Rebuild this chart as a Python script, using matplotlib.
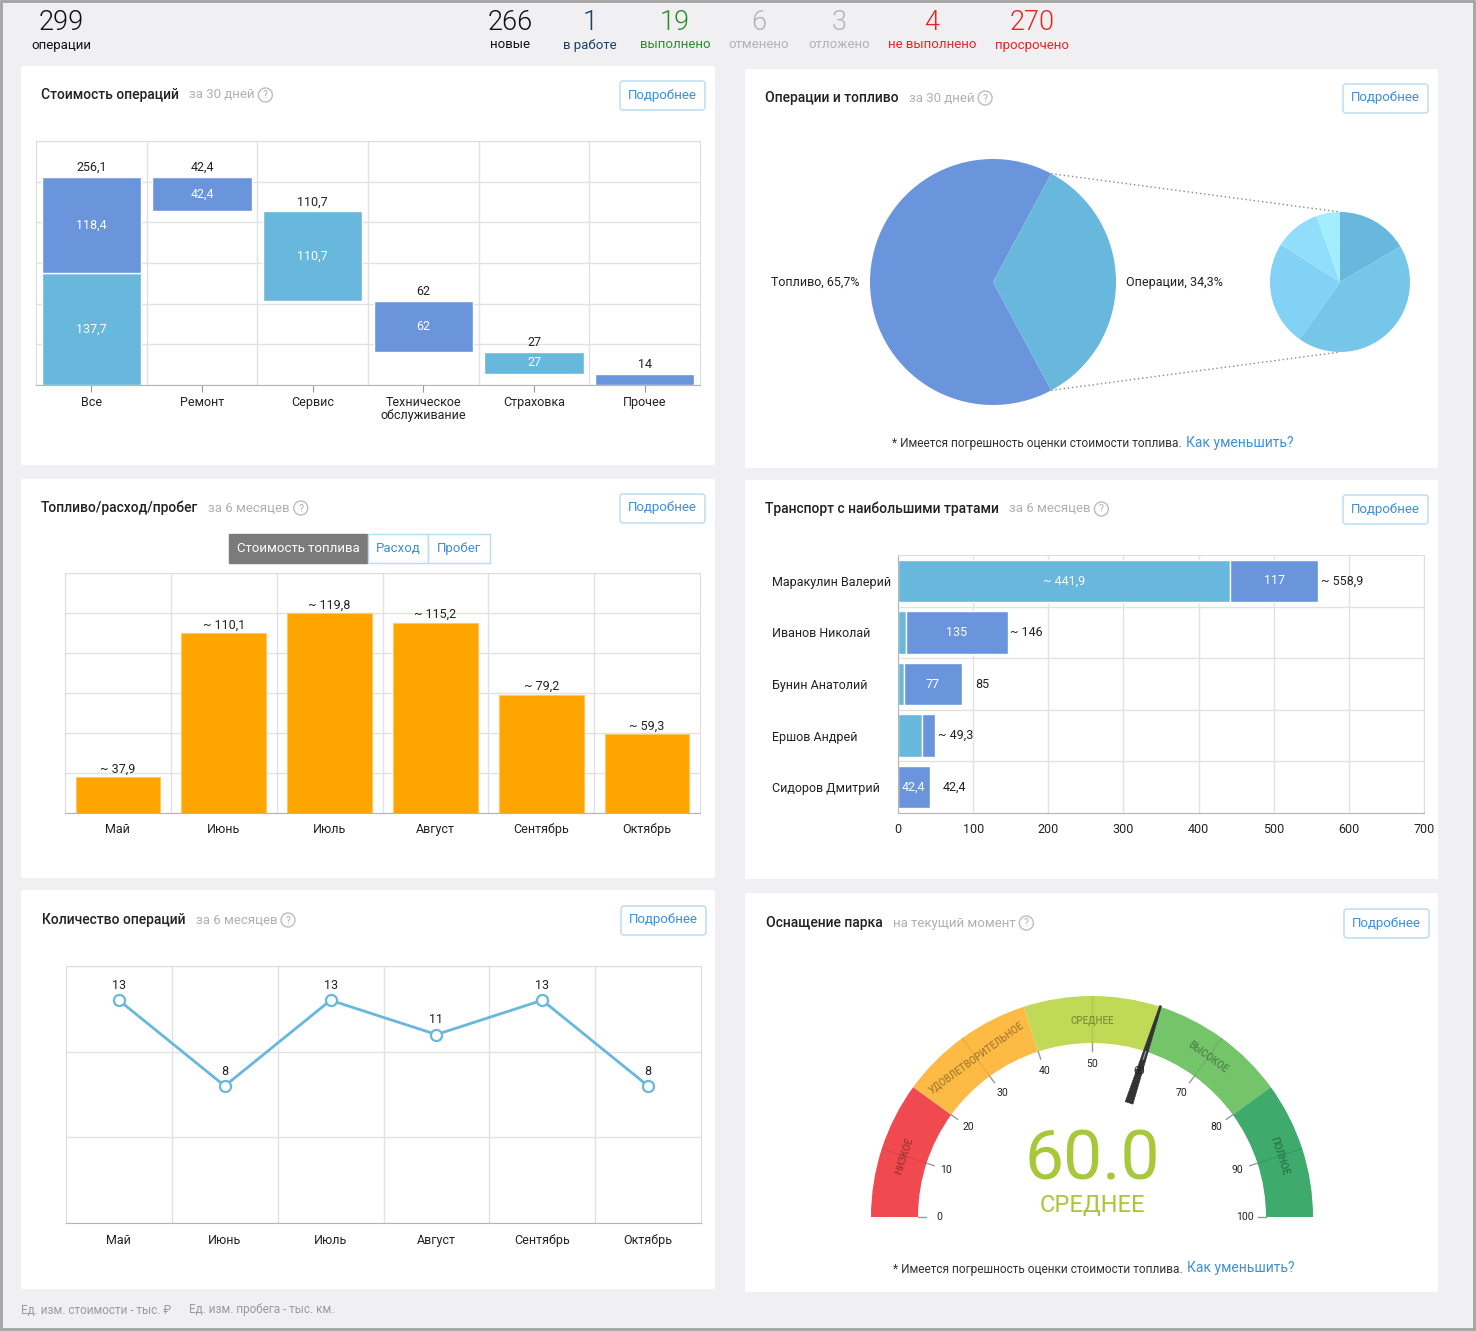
import matplotlib
matplotlib.use('Agg')
import matplotlib.pyplot as plt
import matplotlib.patches as patches
import numpy as np

plt.rcParams['font.family'] = ['Roboto', 'DejaVu Sans']

W, H = 1476, 1331

# ---------- данные ----------
header_values = [299, 266, 1, 19, 6, 3, 4, 270]
header_labels = ['операции', 'новые', 'в работе', 'выполнено', 'отменено',
                 'отложено', 'не выполнено', 'просрочено']

cost_items = ['Ремонт', 'Сервис', 'Техническое\nобслуживание', 'Страховка', 'Прочее']
cost_values = [42.4, 110.7, 62, 27, 14]
cost_group = [0, 1, 0, 1, 0]  # 0 - синие, 1 - голубые

share_labels = ['Топливо', 'Операции']
share_values = [65.7, 34.3]

months = ['Май', 'Июнь', 'Июль', 'Август', 'Сентябрь', 'Октябрь']
fuel_cost = [37.9, 110.1, 119.8, 115.2, 79.2, 59.3]
ops_count = [13, 8, 13, 11, 13, 8]

drivers = ['Маракулин Валерий', 'Иванов Николай', 'Бунин Анатолий',
           'Ершов Андрей', 'Сидоров Дмитрий']
driver_fuel = [441.9, 11.0, 8.0, 32.0, 0.0]
driver_ops = [117, 135, 77, 17.3, 42.4]
driver_approx = [True, True, False, True, False]

gauge_bands = ['НИЗКОЕ', 'УДОВЛЕТВОРИТЕЛЬНОЕ', 'СРЕДНЕЕ', 'ВЫСОКОЕ', 'ПОЛНОЕ']
gauge_edges = [0, 20, 40, 60, 80, 100]
gauge_value = 60.0

# ---------- стиль ----------
BLUE = '#6a95dc'
LIGHT = '#68b7dc'
ORANGE = '#ffa500'
GRID = '#e2e2e2'
LINK = '#3d8fd6'
header_colors = ['#111111', '#111111', '#1c3f66', '#2b8c2b', '#b3b3b3',
                 '#b3b3b3', '#e52521', '#e52521']
header_x = [61, 510, 590, 675, 759, 839, 932, 1032]
small_pie_colors = ['#68b7dc', '#76c6e9', '#82d2f6', '#90defc', '#a2eefe']
band_colors = ['#f04a50', '#fdbb45', '#c0d957', '#74c46a', '#3eaa6c']


def fmt(v):
    return ('%g' % round(v, 1)).replace('.', ',')


fig = plt.figure(figsize=(W / 100, H / 100), dpi=100, facecolor='#f0f0f2')
renderer = fig.canvas.get_renderer()

bg = fig.add_axes([0, 0, 1, 1])
bg.set_xlim(0, W)
bg.set_ylim(H, 0)
bg.axis('off')


def px_axes(x0, y0, x1, y1):
    return fig.add_axes([x0 / W, 1 - y1 / H, (x1 - x0) / W, (y1 - y0) / H])


# рамка и панели
bg.add_patch(patches.Rectangle((1, 1), W - 3, H - 3, fill=False, ec='#a3a3a3', lw=2))
for x0, y0, x1, y1 in [(21, 66, 715, 465), (745, 69, 1438, 468),
                       (21, 479, 715, 878), (745, 480, 1438, 879),
                       (21, 890, 715, 1289), (745, 893, 1438, 1292)]:
    bg.add_patch(patches.Rectangle((x0, y0), x1 - x0, y1 - y0, fc='white', ec='none'))

# верхняя строка счётчиков
for x, v, lab, c in zip(header_x, header_values, header_labels, header_colors):
    bg.text(x, 23, str(v), fontsize=19.5, fontweight=300, color=c, ha='center', va='center')
    bg.text(x, 45, lab, fontsize=9.5, color=c, ha='center', va='center')


def panel_header(x, y, title, sub, btn_x1):
    t = bg.text(x, y, title, fontsize=10, fontweight='medium', color='#222222', va='center')
    xs = t.get_window_extent(renderer).x1 + 10
    s = bg.text(xs, y, sub, fontsize=9.5, color='#b0b0b0', va='center')
    xq = s.get_window_extent(renderer).x1 + 11
    bg.add_patch(patches.Circle((xq, y), 7, fill=False, ec='#bdbdbd', lw=1))
    bg.text(xq, y + 0.5, '?', fontsize=7.5, color='#b0b0b0', ha='center', va='center')
    bg.add_patch(patches.FancyBboxPatch((btn_x1 - 85, y - 14), 85, 29,
                                        boxstyle='round,pad=0,rounding_size=3',
                                        fc='white', ec='#b7dbf0', lw=1))
    bg.text(btn_x1 - 42.5, y, 'Подробнее', fontsize=9.5, color=LINK, ha='center', va='center')


panel_header(41, 95, 'Стоимость операций', 'за 30 дней', 705)
panel_header(765, 98, 'Операции и топливо', 'за 30 дней', 1428)
panel_header(41, 508, 'Топливо/расход/пробег', 'за 6 месяцев', 705)
panel_header(765, 509, 'Транспорт с наибольшими тратами', 'за 6 месяцев', 1428)
panel_header(42, 920, 'Количество операций', 'за 6 месяцев', 706)
panel_header(766, 923, 'Оснащение парка', 'на текущий момент', 1429)


def note(x_split, y):
    bg.text(x_split, y, '* Имеется погрешность оценки стоимости топлива.', fontsize=8.6,
            color='#333333', ha='right', va='center')
    bg.text(x_split + 4, y - 1, 'Как уменьшить?', fontsize=10, color=LINK,
            ha='left', va='center')


note(1182, 444)
note(1183, 1269)

bg.text(21, 1310, 'Ед. изм. стоимости - тыс. ₽', fontsize=8.5, color='#9a9a9a', va='center')
bg.text(189, 1310, 'Ед. изм. пробега - тыс. км.', fontsize=8.5, color='#9a9a9a', va='center')


def style_axes(ax, n):
    for s in ['top', 'left', 'right']:
        ax.spines[s].set_color('#dddddd')
    ax.spines['bottom'].set_color('#b5b5b5')
    ax.tick_params(axis='y', length=0, labelleft=False)
    ax.grid(axis='y', color=GRID, lw=1)
    ax.set_axisbelow(True)
    ax.set_xlim(-0.5, n - 0.5)
    for i in range(n - 1):
        ax.axvline(i + 0.5, color=GRID, lw=1, zorder=0)


# ---------- 1. Стоимость операций (водопад) ----------
ax1 = px_axes(36, 141, 700, 385)
style_axes(ax1, 6)
ax1.set_ylim(0, 300)
ax1.set_yticks(np.arange(0, 301, 50))

light_sum = sum(v for v, g in zip(cost_values, cost_group) if g == 1)
blue_sum = sum(v for v, g in zip(cost_values, cost_group) if g == 0)
total = light_sum + blue_sum
ax1.bar(0, light_sum, width=0.9, color=LIGHT, ec='white', lw=1)
ax1.bar(0, blue_sum, bottom=light_sum, width=0.9, color=BLUE, ec='white', lw=1)
ax1.text(0, light_sum / 2, fmt(light_sum), color='white', fontsize=9, ha='center', va='center')
ax1.text(0, light_sum + blue_sum / 2, fmt(blue_sum), color='white', fontsize=9,
         ha='center', va='center')
ax1.annotate(fmt(total), (0, total), xytext=(0, 2), textcoords='offset points',
             ha='center', va='bottom', fontsize=9, color='#222222')

level = total
for i, (v, g) in enumerate(zip(cost_values, cost_group), start=1):
    ax1.bar(i, v, bottom=level - v, width=0.9, color=LIGHT if g else BLUE, ec='white', lw=1)
    ax1.annotate(fmt(v), (i, level), xytext=(0, 2), textcoords='offset points',
                 ha='center', va='bottom', fontsize=9, color='#222222')
    if v > 20:
        ax1.text(i, level - v / 2, fmt(v), color='white', fontsize=9, ha='center', va='center')
    level -= v

ax1.set_xticks(range(6))
ax1.set_xticklabels(['Все'] + cost_items, fontsize=9, color='#222222', linespacing=1.0,
                    va='top')
ax1.tick_params(axis='x', length=5, color='#999999', pad=3)

# ---------- 2. Операции и топливо (круговые) ----------
ax2 = px_axes(870, 159, 1116, 405)
start = share_values[1] * 3.6 / 2
ax2.pie(share_values, colors=[BLUE, LIGHT], startangle=start, radius=1,
        labels=['%s, %s%%' % (l, fmt(v)) for l, v in zip(share_labels, share_values)],
        labeldistance=1.085, textprops=dict(fontsize=9, color='#222222'),
        wedgeprops=dict(lw=0))
for side in (-1, 1):
    ax2.plot([side * 1.015, side * 1.055], [0, 0], color='#cccccc', lw=1)
ax2.set_xlim(-1, 1)
ax2.set_ylim(-1, 1)
ax2.set_aspect('equal')

ax2b = px_axes(1270, 212, 1410, 352)
ax2b.pie(cost_values, colors=small_pie_colors, startangle=90, counterclock=False,
         radius=1, wedgeprops=dict(lw=0))
ax2b.set_xlim(-1, 1)
ax2b.set_ylim(-1, 1)
ax2b.set_aspect('equal')

a = np.radians(start)
cx, cy, r = 993, 282, 123
for sgn, ty in ((-1, 212), (1, 352)):
    bg.plot([cx + r * np.cos(a), 1340], [cy + sgn * r * np.sin(a), ty],
            color='#888888', lw=1, ls=(0, (1, 2)))

# ---------- 3. Топливо/расход/пробег ----------
tabs = [('Стоимость топлива', 229, 367, True), ('Расход', 368, 428, False),
        ('Пробег', 428, 490, False)]
for lab, x0, x1, active in tabs:
    bg.add_patch(patches.Rectangle((x0, 534), x1 - x0, 29,
                                   fc='#7b7b7b' if active else 'white',
                                   ec='#7b7b7b' if active else '#b7dbf0', lw=1))
    bg.text((x0 + x1) / 2, 548.5, lab, fontsize=9.5, ha='center', va='center',
            color='white' if active else LINK)

ax3 = px_axes(65, 573, 700, 813)
style_axes(ax3, 6)
ax3.set_ylim(20, 140)
ax3.set_yticks(np.arange(20, 141, 20))
ax3.bar(range(6), fuel_cost, width=0.8, color=ORANGE, ec='#ffc766', lw=0.8)
for i, v in enumerate(fuel_cost):
    ax3.annotate('~ ' + fmt(v), (i, v), xytext=(0, 1), textcoords='offset points',
                 ha='center', va='bottom', fontsize=9, color='#222222')
ax3.set_xticks(range(6))
ax3.set_xticklabels(months, fontsize=9, color='#222222')
ax3.tick_params(axis='x', length=0, pad=7.5)

# ---------- 4. Транспорт с наибольшими тратами ----------
ax4 = px_axes(898, 555, 1424, 813)
n = len(drivers)
y = np.arange(n)
ax4.barh(y, driver_fuel, height=0.82, color=LIGHT, ec='white', lw=1)
ax4.barh(y, driver_ops, left=driver_fuel, height=0.82, color=BLUE, ec='white', lw=1)
for i in range(n):
    f, o = driver_fuel[i], driver_ops[i]
    if f > 35:
        ax4.text(f / 2, i, '~ ' + fmt(f), color='white', fontsize=9, ha='center', va='center')
    if o > 35:
        ax4.text(f + o / 2, i, fmt(o), color='white', fontsize=9, ha='center', va='center')
    lab = ('~ ' if driver_approx[i] else '') + fmt(f + o)
    ax4.annotate(lab, (f + o, i), xytext=(2 if driver_approx[i] else 9.5, 0),
                 textcoords='offset points', ha='left', va='center', fontsize=9,
                 color='#222222')
ax4.set_xlim(0, 700)
ax4.set_ylim(n - 0.5, -0.5)
ax4.set_xticks(np.arange(0, 701, 100))
ax4.set_yticks(y)
ax4.set_yticklabels(drivers, fontsize=9, color='#222222', ha='left')
ax4.tick_params(axis='y', length=0, pad=90.7)
ax4.tick_params(axis='x', length=0, pad=7.5, labelsize=9, labelcolor='#222222')
ax4.grid(axis='x', color=GRID, lw=1)
for i in range(n - 1):
    ax4.axhline(i + 0.5, color=GRID, lw=1, zorder=0)
ax4.set_axisbelow(True)
for s in ['top', 'right']:
    ax4.spines[s].set_color('#dddddd')
ax4.spines['bottom'].set_color('#b5b5b5')
ax4.spines['left'].set_color('#b5b5b5')

# ---------- 5. Количество операций ----------
ax5 = px_axes(66, 966, 701, 1223)
style_axes(ax5, 6)
ax5.set_ylim(0, 15)
ax5.set_yticks([0, 5, 10, 15])
ax5.plot(range(6), ops_count, color=LIGHT, lw=2, marker='o', ms=8, mfc='white',
         mec=LIGHT, mew=1.6, zorder=3)
for i, v in enumerate(ops_count):
    ax5.annotate(str(v), (i, v), xytext=(0, 6), textcoords='offset points',
                 ha='center', va='bottom', fontsize=9, color='#222222')
ax5.set_xticks(range(6))
ax5.set_xticklabels(months, fontsize=9, color='#222222')
ax5.tick_params(axis='x', length=0, pad=8)

# ---------- 6. Оснащение парка (спидометр) ----------
gx, gy = 1092, 1217
ax6 = px_axes(850, 975, 1335, 1240)
ax6.set_xlim(850 - gx, 1335 - gx)
ax6.set_ylim(gy - 1240, gy - 975)
ax6.axis('off')
R_OUT, R_IN = 221, 174


def ang(v):
    return 180 - v * 1.8


for (v0, v1), name, col in zip(zip(gauge_edges[:-1], gauge_edges[1:]), gauge_bands, band_colors):
    ax6.add_patch(patches.Wedge((0, 0), R_OUT, ang(v1), ang(v0), width=R_OUT - R_IN,
                                fc=col, ec='none'))
    vm = (v0 + v1) / 2
    t = np.radians(ang(vm))
    ax6.plot([R_IN * np.cos(t), R_OUT * np.cos(t)], [R_IN * np.sin(t), R_OUT * np.sin(t)],
             color='black', alpha=0.08, lw=1)
    ax6.text(197 * np.cos(t), 197 * np.sin(t), name, rotation=ang(vm) - 90,
             rotation_mode='anchor', ha='center', va='center', fontsize=7,
             fontweight='medium', color='black', alpha=0.33)

for v in range(0, 101, 10):
    t = np.radians(ang(v))
    ax6.plot([166 * np.cos(t), R_IN * np.cos(t)], [166 * np.sin(t), R_IN * np.sin(t)],
             color='#999999', lw=1)
    ax6.text(153 * np.cos(t), 153 * np.sin(t), str(v), fontsize=7.5, color='#222222',
             ha='center', va='center')

t = np.radians(ang(gauge_value))
u = np.array([np.cos(t), np.sin(t)])
nrm = np.array([-np.sin(t), np.cos(t)])
needle = [u * 120 + nrm * 4, u * 222 + nrm * 0.9, u * 222 - nrm * 0.9, u * 120 - nrm * 4]
ax6.add_patch(patches.Polygon(needle, closed=True, fc='#333333', ec='#333333', lw=0.5))

band_name = next(nm for (v0, v1), nm in zip(zip(gauge_edges[:-1], gauge_edges[1:]), gauge_bands)
                 if v0 < gauge_value <= v1)
ax6.text(0, 56, '%.1f' % gauge_value, fontsize=50, color='#a8c83a', ha='center', va='center')
ax6.text(0, 12, band_name, fontsize=17, color='#a8c83a', ha='center', va='center')

fig.savefig('out.png', dpi=100, facecolor=fig.get_facecolor())
